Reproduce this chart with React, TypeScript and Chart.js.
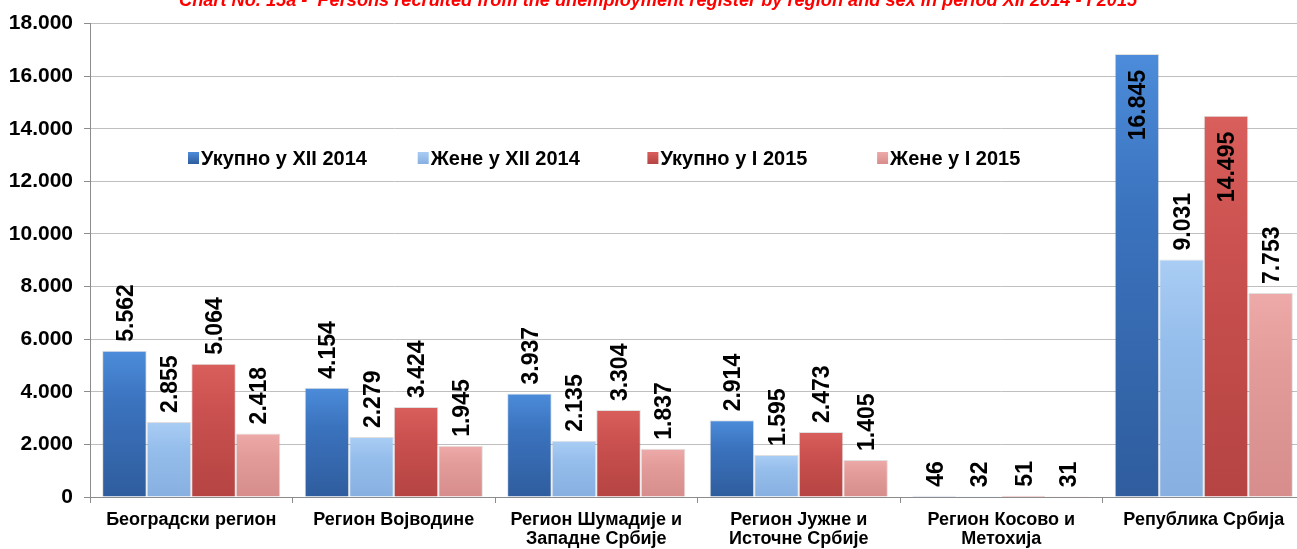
import React, { useEffect, useRef } from "react";
import { Chart, registerables } from "chart.js";

Chart.register(...registerables);

const chartTitle =
  "Chart No. 15a -  Persons recruited from the unemployment register by region and sex in period XII 2014 - I 2015";

const categories: string[][] = [
  ["Београдски регион"],
  ["Регион Војводине"],
  ["Регион Шумадије и", "Западне Србије"],
  ["Регион Јужне и", "Источне Србије"],
  ["Регион Косово и", "Метохија"],
  ["Република Србија"],
];

const seriesLabels = ["Укупно у XII 2014", "Жене у XII 2014", "Укупно у I 2015", "Жене у I 2015"];

const totalDec2014 = [5562, 4154, 3937, 2914, 46, 16845];
const womenDec2014 = [2855, 2279, 2135, 1595, 32, 9031];
const totalJan2015 = [5064, 3424, 3304, 2473, 51, 14495];
const womenJan2015 = [2418, 1945, 1837, 1405, 31, 7753];

const yTicksMax = 18000;
const yTicksStep = 2000;

// top / mid / bottom colours of each series
const palette = [
  ["#4C8CDA", "#3B73BE", "#2F5D9E"],
  ["#A9CDF4", "#96BEEC", "#87AFE0"],
  ["#D95F5C", "#CA514F", "#B54442"],
  ["#EDAAA8", "#E39C9A", "#D68D8B"],
];

const FONT = "'Liberation Sans', Arial, Helvetica, sans-serif";

const fmt = (v: number) => String(v).replace(/\B(?=(\d{3})+(?!\d))/g, ".");

export default function App() {
  const ref = useRef<HTMLCanvasElement | null>(null);

  useEffect(() => {
    document.body.style.margin = "0";
    const canvas = ref.current;
    if (!canvas) return;

    const barGradient = (si: number) => (ctx: any) => {
      const chart = ctx.chart;
      const area = chart.chartArea;
      const ys = chart.scales.y;
      if (!area || !ys || ctx.raw === undefined) return palette[si][1];
      const top = ys.getPixelForValue(ctx.raw);
      const bottom = ys.getPixelForValue(0);
      if (!isFinite(top) || bottom - top < 2) return palette[si][1];
      const g = chart.ctx.createLinearGradient(0, top, 0, bottom);
      g.addColorStop(0, palette[si][0]);
      g.addColorStop(0.35, palette[si][1]);
      g.addColorStop(1, palette[si][2]);
      return g;
    };

    const titlePlugin = {
      id: "topTitle",
      afterDraw(chart: any) {
        const c = chart.ctx;
        c.save();
        c.font = `italic bold 18.2px ${FONT}`;
        c.fillStyle = "#FF0000";
        c.textAlign = "left";
        c.textBaseline = "alphabetic";
        c.fillText(chartTitle, 179, 6);
        c.restore();
      },
    };

    const legendPlugin = {
      id: "innerLegend",
      afterDraw(chart: any) {
        const c = chart.ctx;
        c.save();
        c.font = `bold 20px ${FONT}`;
        c.textBaseline = "middle";
        c.textAlign = "left";
        const y = 158;
        chart.data.datasets.forEach((ds: any, i: number) => {
          const x = 188 + i * 229.7;
          const g = c.createLinearGradient(0, y - 6, 0, y + 6);
          g.addColorStop(0, palette[i][0]);
          g.addColorStop(1, palette[i][2]);
          c.fillStyle = g;
          c.fillRect(x, y - 6, 11, 12);
          c.fillStyle = "#000";
          c.fillText(ds.label, x + 13, y + 1);
        });
        c.restore();
      },
    };

    const labelPlugin = {
      id: "valueLabels",
      afterDatasetsDraw(chart: any) {
        const c = chart.ctx;
        const area = chart.chartArea;
        c.save();
        c.font = `bold 23px ${FONT}`;
        c.fillStyle = "#000";
        c.textBaseline = "middle";
        chart.data.datasets.forEach((ds: any, di: number) => {
          const meta = chart.getDatasetMeta(di);
          meta.data.forEach((el: any, i: number) => {
            const text = fmt(ds.data[i]);
            const w = c.measureText(text).width;
            const top = el.y;
            c.save();
            if (top - 9 - w < area.top + 20) {
              c.translate(el.x + 2, top + 16);
              c.rotate(-Math.PI / 2);
              c.textAlign = "right";
            } else {
              c.translate(el.x + 2, top - 9);
              c.rotate(-Math.PI / 2);
              c.textAlign = "left";
            }
            c.fillText(text, 0, 0);
            c.restore();
          });
        });
        c.restore();
      },
    };

    const data = {
      labels: categories,
      datasets: [totalDec2014, womenDec2014, totalJan2015, womenJan2015].map((d, i) => ({
        label: seriesLabels[i],
        data: d,
        backgroundColor: barGradient(i),
        borderColor: "rgba(0,0,0,0.12)",
        borderWidth: 1,
        categoryPercentage: 0.88,
        barPercentage: 1.0,
      })),
    };

    const chart = new Chart(canvas, {
      type: "bar",
      data,
      plugins: [titlePlugin, legendPlugin, labelPlugin],
      options: {
        responsive: false,
        animation: false,
        layout: { padding: { top: 21, right: 0, left: 0, bottom: 0 } },
        plugins: {
          legend: { display: false },
          title: { display: false },
          tooltip: { enabled: false },
        },
        scales: {
          x: {
            afterFit(scale: any) {
              scale.height = 52;
            },
            grid: {
              display: true,
              drawOnChartArea: false,
              drawTicks: true,
              tickLength: 6,
              color: "#8C8C8C",
              offset: true,
            },
            border: { display: true, color: "#8C8C8C", width: 1 },
            ticks: {
              color: "#000",
              font: { family: FONT, size: 18, weight: "bold", lineHeight: 1.06 },
              padding: 7,
              maxRotation: 0,
              autoSkip: false,
            },
          },
          y: {
            min: 0,
            max: yTicksMax,
            afterFit(scale: any) {
              scale.width = 90;
            },
            grid: {
              color: "#BFBFBF",
              lineWidth: 1,
              drawTicks: true,
              tickLength: 6,
              tickColor: "#8C8C8C",
            },
            border: { display: true, color: "#8C8C8C", width: 1 },
            ticks: {
              stepSize: yTicksStep,
              color: "#000",
              padding: 11,
              font: { family: FONT, size: 21, weight: "bold" },
              callback: (v: any) => fmt(Number(v)),
            },
          },
        },
      },
    });

    return () => chart.destroy();
  }, []);

  return (
    <div style={{ width: 1297, height: 549, overflow: "hidden", background: "#fff" }}>
      <canvas ref={ref} width={1305} height={549} style={{ display: "block" }} />
    </div>
  );
}
